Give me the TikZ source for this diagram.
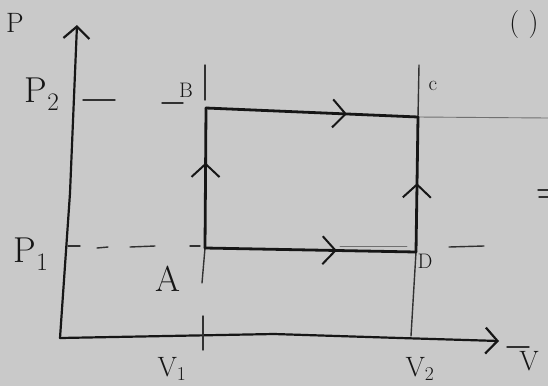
\documentclass[tikz,border=0pt]{standalone}
\usepackage{fontspec}
\usetikzlibrary{arrows.meta,decorations.markings}
\definecolor{paper}{HTML}{C9C9C9}
\definecolor{inkc}{HTML}{161616}
\definecolor{faintc}{HTML}{707070}
\begin{document}
\begin{tikzpicture}[x=1pt,y=-1pt,
  axis/.style={draw=inkc, line width=2.2pt, line cap=round, line join=round},
  proc/.style={draw=inkc, line width=2.8pt, line cap=round, line join=round},
  thin/.style={draw=inkc!85!paper, line width=1.4pt, line cap=round},
  faint/.style={draw=faintc, line width=0.9pt, line cap=round},
  barb/.style={-{Straight Barb[length=12pt,width=26pt]}},
  midarrow/.style={postaction={decorate,decoration={markings,
      mark=at position #1 with {\arrow[line width=2pt]{Straight Barb[length=13pt,width=28pt]}}}}},
  big/.style={font=\fontsize{36}{36}\selectfont, text=inkc, inner sep=0pt},
  lbl/.style={font=\fontsize{28}{28}\selectfont, text=inkc, inner sep=0pt},
  sml/.style={font=\fontsize{21}{21}\selectfont, text=inkc, inner sep=0pt}]
\fill[paper] (0,0) rectangle (548,386);
\useasboundingbox (0,0) rectangle (548,386);

% named points
\coordinate (O) at (60,338);
\coordinate (Ytip) at (77,25);
\coordinate (Xtip) at (499,341);
\coordinate (A) at (205,248);
\coordinate (B) at (206,108);
\coordinate (C) at (418,117);
\coordinate (D) at (416,252);
\coordinate (Btop) at (205,65);
\coordinate (Bmid) at (205,100);
\coordinate (Ctop) at (419,65);
\coordinate (Dbot) at (411,336);
\coordinate (Abot) at (202,283);
\coordinate (Vtick1) at (203,316);
\coordinate (Vtick2) at (203,350);

% axes
\draw[axis, barb] (O) -- (70,193) -- (Ytip);
\draw[axis, barb] (O) -- (274,334) -- (400,338) -- (Xtip);

% guide lines
\draw[thin] (Btop) -- (Bmid);
\draw[thin] (Ctop) -- (C);
\draw[thin] (D) -- (Dbot);
\draw[thin] (A) -- (Abot);
\draw[thin] (Vtick1) -- (Vtick2);
\draw[thin] (83,100) -- (115,100);
\draw[thin] (162,103) -- (183,103);
\draw[thin] (68,246) -- (80,246);
\draw[thin] (97,248) -- (108,247);
\draw[thin] (130,247) -- (155,246);
\draw[thin] (190,246) -- (200,246);
\draw[thin] (449,247) -- (484,246);
\draw[faint] (C) -- (548,118);
\draw[faint] (340,246) -- (407,246);
\draw[thin] (507,347) -- (529,347);
\draw[thin] (538,190) -- (548,190);
\draw[thin] (539,197) -- (548,197);

% process rectangle
\draw[proc, midarrow=0.61] (A) -- (B);
\draw[proc, midarrow=0.665] (B) -- (C);
\draw[proc, midarrow=0.51] (D) -- (C);
\draw[proc, midarrow=0.625] (A) -- (D);

% labels
\node[lbl] (lP) at (15,23) {P};
\node[big] (lP2) at (42,94) {P\textsubscript{2}};
\node[sml] (lB) at (186,90) {B};
\node[sml] (lC) at (433,86) {c};
\node[lbl] (lpar) at (524,25) {(\,\,)};
\node[big] (lP1) at (31,254) {P\textsubscript{1}};
\node[big] (lA) at (168,279) {A};
\node[sml] (lD) at (425,261) {D};
\node[lbl] (lV1) at (172,369) {V\textsubscript{1}};
\node[lbl] (lV2) at (420,369) {V\textsubscript{2}};
\node[lbl] (lV) at (529,361) {V};
\end{tikzpicture}
\end{document}
